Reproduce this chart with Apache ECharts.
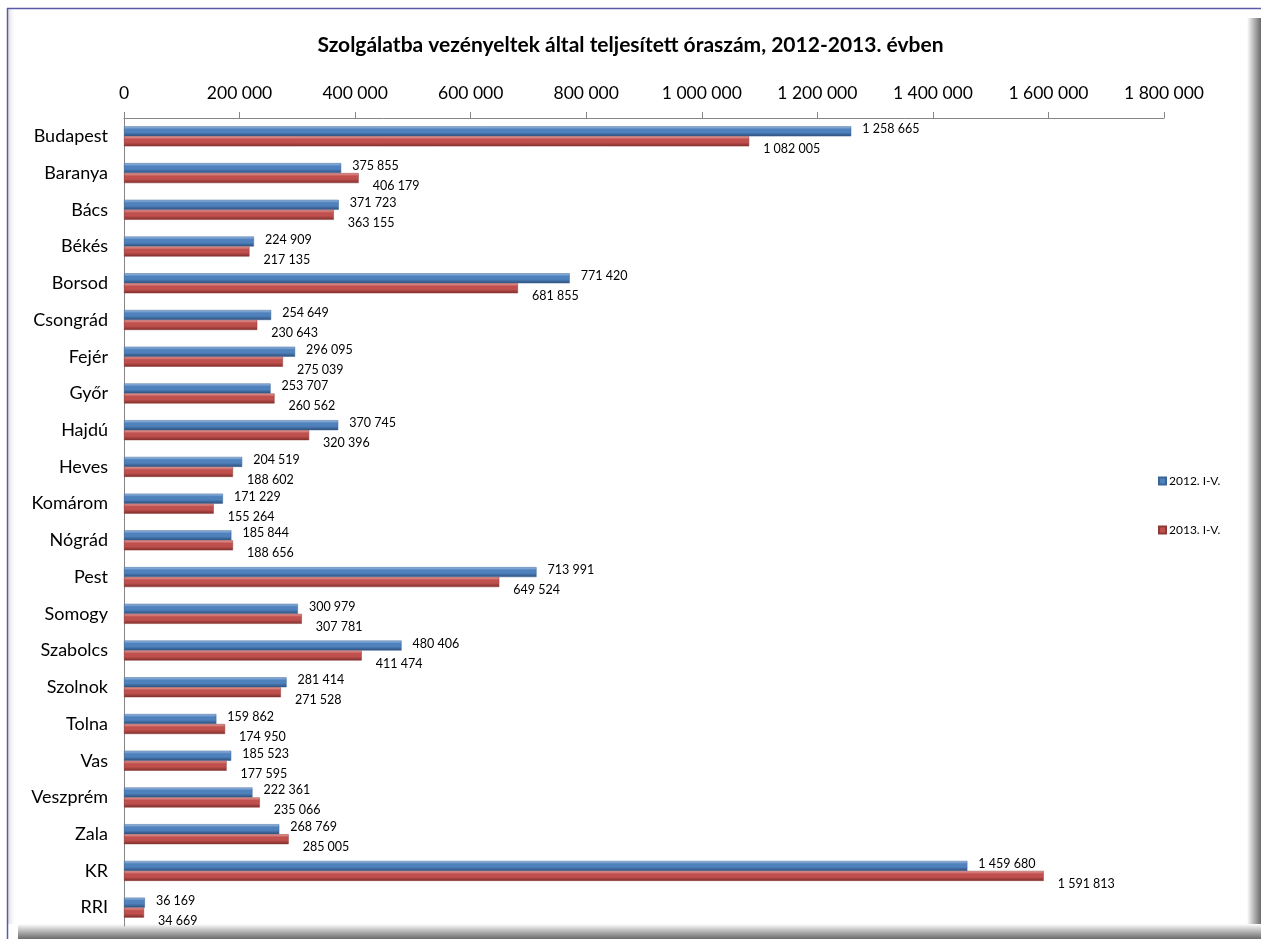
<!DOCTYPE html>
<html><head><meta charset="utf-8">
<script src="https://cdn.jsdelivr.net/npm/echarts@6/dist/echarts.min.js"></script>
<style>html,body{margin:0;padding:0;background:#fff}#c{width:1261px;height:939px}</style>
</head><body><div id="c"></div>
<script>
const categories = ['Budapest','Baranya','Bács','Békés','Borsod','Csongrád','Fejér','Győr','Hajdú','Heves','Komárom','Nógrád','Pest','Somogy','Szabolcs','Szolnok','Tolna','Vas','Veszprém','Zala','KR','RRI'];
const values2012 = [1258665,375855,371723,224909,771420,254649,296095,253707,370745,204519,171229,185844,713991,300979,480406,281414,159862,185523,222361,268769,1459680,36169];
const values2013 = [1082005,406179,363155,217135,681855,230643,275039,260562,320396,188602,155264,188656,649524,307781,411474,271528,174950,177595,235066,285005,1591813,34669];
const seriesNames = ['2012. I-V.','2013. I-V.'];
const axisMin = 0, axisMax = 1800000, axisStep = 200000;
const titleText = 'Szolgálatba vezényeltek által teljesített óraszám, 2012-2013. évben';

const FONT = 'Lato';
function fmt(v){ return String(v).replace(/\B(?=(\d{3})+(?!\d))/g,' '); }

function grad(light, mid, dark){
  return new echarts.graphic.LinearGradient(0,0,0,1,[
    {offset:0,color:light},{offset:0.3,color:mid},{offset:0.6,color:mid},{offset:1,color:dark}
  ]);
}

const chart = echarts.init(document.getElementById('c'));
chart.setOption({
  animation:false,
  backgroundColor:'#fff',
  title:{text:titleText,left:'center',top:30,textStyle:{fontFamily:FONT,fontWeight:'bold',fontSize:21,color:'#000'}},
  graphic:[
    {type:'rect',z:-10,shape:{x:1247,y:18,width:14,height:921},style:{fill:new echarts.graphic.LinearGradient(0,0,1,0,[{offset:0,color:'rgba(255,255,255,1)'},{offset:1,color:'#6a6a6a'}])}},
    {type:'rect',z:-10,shape:{x:18,y:924,width:1243,height:15},style:{fill:new echarts.graphic.LinearGradient(0,0,0,1,[{offset:0,color:'rgba(255,255,255,1)'},{offset:1,color:'#6a6a6a'}])}},
    {type:'rect',z:-9,shape:{x:8,y:9,width:1239,height:915},style:{fill:'#fff'}},
    {type:'line',z:-8,shape:{x1:7,y1:8.5,x2:1261,y2:8.5},style:{stroke:'#5a5aa8',lineWidth:1.5}},
    {type:'line',z:-8,shape:{x1:7.5,y1:8,x2:7.5,y2:939},style:{stroke:'#5a5aa8',lineWidth:1.5}},
    {type:'rect',z:-8,shape:{x:8,y:9,width:8,height:915},style:{fill:new echarts.graphic.LinearGradient(0,0,1,0,[{offset:0,color:'rgba(150,150,160,0.35)'},{offset:1,color:'rgba(255,255,255,0)'}])}}
  ],
  legend:{
    orient:'vertical',left:1153,top:470,itemGap:37,itemWidth:7,itemHeight:7,
    textStyle:{fontFamily:FONT,fontSize:12,color:'#000',padding:[0,0,0,-2]},
    data:seriesNames.map((n,i)=>({name:n,icon:'rect',itemStyle:{color:i?'#C0504D':'#4F81BD'}}))
  },
  grid:{left:124,right:97,top:118,bottom:13,containLabel:false},
  xAxis:{
    type:'value',position:'top',min:axisMin,max:axisMax,interval:axisStep,
    axisLine:{show:true,lineStyle:{color:'#868686',width:1}},
    axisTick:{show:true,length:6,lineStyle:{color:'#868686'}},
    splitLine:{show:false},
    axisLabel:{fontFamily:FONT,fontSize:17.5,color:'#000',margin:16,formatter:v=>fmt(v)}
  },
  yAxis:{
    type:'category',inverse:true,data:categories,
    axisLine:{show:true,lineStyle:{color:'#868686'}},
    axisTick:{show:false},
    axisLabel:{fontFamily:FONT,fontSize:18,color:'#000',margin:16}
  },
  series:[
    {name:seriesNames[0],type:'bar',data:values2012,barWidth:10,barGap:'0%',
     itemStyle:{color:grad('#a4c2e8','#4F81BD','#2b4d78'),borderColor:'#3a6496',borderWidth:0.5},
     label:{show:true,position:'right',distance:11,offset:[0,-2],fontFamily:FONT,fontSize:12.5,color:'#000',formatter:p=>fmt(p.value)}},
    {name:seriesNames[1],type:'bar',data:values2013,barWidth:10,barGap:'0%',
     itemStyle:{color:grad('#eba5a3','#C0504D','#7c2d2b'),borderColor:'#8e3a38',borderWidth:0.5},
     label:{show:true,position:'right',distance:14,offset:[0,8],fontFamily:FONT,fontSize:12.5,color:'#000',formatter:p=>fmt(p.value)}}
  ]
});
</script></body></html>
